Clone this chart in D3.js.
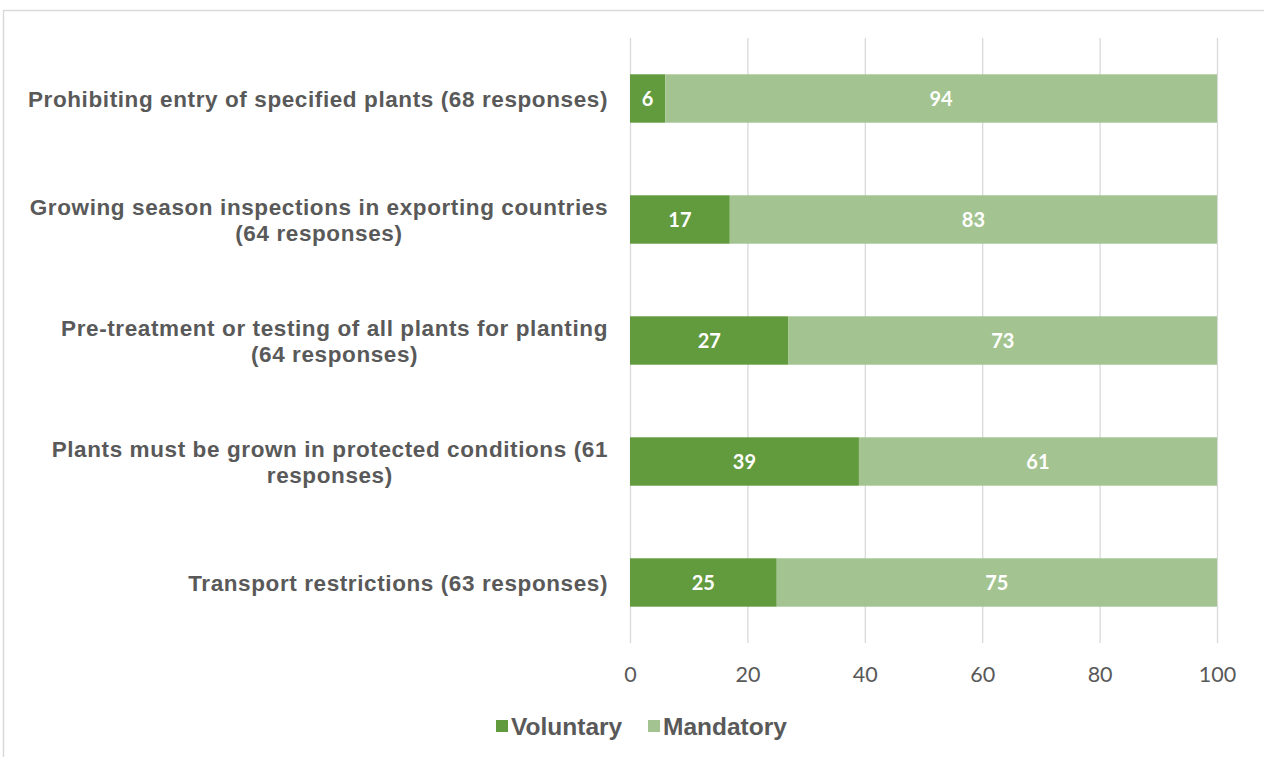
<!DOCTYPE html>
<html>
<head>
<meta charset="utf-8">
<script src="https://cdn.jsdelivr.net/npm/d3@7/dist/d3.min.js"></script>
<style>
  html, body { margin: 0; padding: 0; background: #fff; }
  svg { display: block; }
</style>
</head>
<body>
<svg id="chart" width="1264" height="757"></svg>
<script>
// Plant-import measures: share of responses (%) that are voluntary vs mandatory
const categories = [
  ["Prohibiting entry of specified plants (68 responses)"],
  ["Growing season inspections in exporting countries", "(64 responses)"],
  ["Pre-treatment or testing of all plants for planting", "(64 responses)"],
  ["Plants must be grown in protected conditions (61", "responses)"],
  ["Transport restrictions (63 responses)"]
];
const voluntary = [6, 17, 27, 39, 25];
const mandatory = [94, 83, 73, 61, 75];
const seriesNames = ["Voluntary", "Mandatory"];
const xTicks = [0, 20, 40, 60, 80, 100];

const colors = { Voluntary: "#629a3e", Mandatory: "#a3c490" };
const textGray = "#595959";

const svg = d3.select("#chart");

// outer chart-area frame
svg.append("path")
  .attr("d", "M3.5,757 L3.5,10.5 L1264,10.5")
  .attr("fill", "none")
  .attr("stroke", "#d9d9d9")
  .attr("stroke-width", 1.5);

const plot = { left: 630, right: 1217, top: 38, bottom: 643 };

const x = d3.scaleLinear().domain([0, 100]).range([plot.left, plot.right]);
const y = d3.scaleBand()
  .domain(d3.range(categories.length))
  .range([plot.top, plot.bottom])
  .paddingInner(0.6)
  .paddingOuter(0.3);

// vertical gridlines
svg.append("g")
  .selectAll("line")
  .data(xTicks)
  .join("line")
  .attr("x1", d => x(d) + 0.5)
  .attr("x2", d => x(d) + 0.5)
  .attr("y1", plot.top)
  .attr("y2", plot.bottom)
  .attr("stroke", "#d9d9d9")
  .attr("stroke-width", 1.3);

// x axis tick labels
const xAxis = d3.axisBottom(x).tickValues(xTicks).tickSize(0).tickPadding(0);
const xg = svg.append("g")
  .attr("transform", `translate(0,${plot.bottom + 31})`)
  .call(xAxis);
xg.select(".domain").remove();
xg.selectAll("text")
  .attr("font-family", "Lato, 'Open Sans', sans-serif")
  .attr("font-size", 21.5)
  .attr("fill", textGray)
  .attr("dy", "0.36em")
  .attr("y", 0);

// stacked bars
const rows = categories.map((c, i) => ({ i, Voluntary: voluntary[i], Mandatory: mandatory[i] }));
const stack = d3.stack().keys(seriesNames)(rows);

const layers = svg.append("g")
  .selectAll("g")
  .data(stack)
  .join("g")
  .attr("fill", d => colors[d.key]);

layers.selectAll("rect")
  .data(d => d)
  .join("rect")
  .attr("x", d => x(d[0]))
  .attr("width", d => x(d[1]) - x(d[0]))
  .attr("y", d => y(d.data.i))
  .attr("height", y.bandwidth());

// value labels inside segments
layers.selectAll("text")
  .data(d => d.map(s => ({ s, key: d.key })))
  .join("text")
  .attr("x", d => (x(d.s[0]) + x(d.s[1])) / 2)
  .attr("y", d => y(d.s.data.i) + y.bandwidth() / 2)
  .attr("dy", "0.36em")
  .attr("text-anchor", "middle")
  .attr("font-family", "Lato, 'Open Sans', sans-serif")
  .attr("font-weight", "bold")
  .attr("font-size", 20)
  .attr("fill", "#ffffff")
  .text(d => d.s.data[d.key]);

// category labels (multi-line ones are centred on their longest line)
const labelRight = 608;
const lineH = 26;
const catG = svg.append("g")
  .attr("font-family", "'Liberation Sans', Arial, sans-serif")
  .attr("font-weight", "bold")
  .attr("font-size", 22.5)
  .attr("letter-spacing", 0.6)
  .attr("fill", textGray);

categories.forEach((lines, i) => {
  const cy = y(i) + y.bandwidth() / 2;
  const t = catG.append("text");
  lines.forEach((ln, k) => {
    t.append("tspan")
      .attr("y", cy - (lines.length - 1) * lineH / 2 + k * lineH)
      .attr("dy", "0.36em")
      .text(ln);
  });
  const spans = t.selectAll("tspan").nodes();
  const widths = spans.map(n => n.getComputedTextLength());
  const maxW = d3.max(widths);
  const centre = labelRight - maxW / 2;
  spans.forEach(n => {
    d3.select(n).attr("x", centre).attr("text-anchor", "middle");
  });
});

// legend
const legend = svg.append("g")
  .attr("font-family", "'Liberation Sans', Arial, sans-serif")
  .attr("font-weight", "bold")
  .attr("font-size", 24.5)
  .attr("fill", textGray);
const legendX = [496, 648];
seriesNames.forEach((name, k) => {
  legend.append("rect")
    .attr("x", legendX[k])
    .attr("y", 720)
    .attr("width", 12)
    .attr("height", 12)
    .attr("fill", colors[name]);
  legend.append("text")
    .attr("x", legendX[k] + 15)
    .attr("y", 726)
    .attr("dy", "0.36em")
    .text(name);
});
</script>
</body>
</html>
